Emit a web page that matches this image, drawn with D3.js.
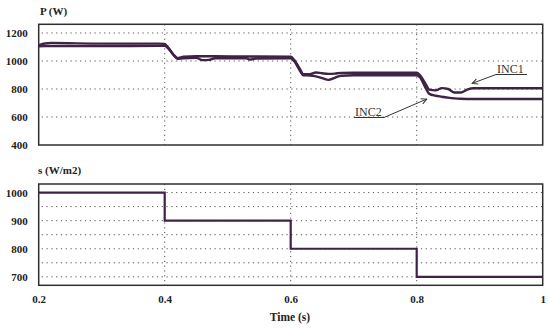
<!DOCTYPE html>
<html>
<head>
<meta charset="utf-8">
<script src="https://cdn.jsdelivr.net/npm/d3@7/dist/d3.min.js"></script>
<style>
    body { margin: 0; background: #fff; }
    svg { display: block; }
    text { font-family: "Liberation Serif", "Times New Roman", serif; }
</style>
</head>
<body>
<svg id="chart" width="550" height="329"></svg>
<script>
"use strict";

// power curves (W) for the two INC controllers
var powerTime = [0.2, 0.21, 0.22, 0.3, 0.39, 0.4, 0.405, 0.415, 0.42, 0.43, 0.45, 0.46, 0.47, 0.48, 0.53, 0.535, 0.545, 0.6,
    0.605, 0.615, 0.62, 0.63, 0.64, 0.65, 0.66, 0.67, 0.68, 0.7, 0.8, 0.805, 0.815, 0.82, 0.83, 0.84, 0.85, 0.86, 0.87, 0.88, 0.89, 0.95, 1];
var inc1 = [1112, 1125, 1128, 1124, 1124, 1122, 1100, 1040, 1022, 1030, 1034, 1034, 1034, 1034, 1032, 1032, 1032, 1030,
    1010, 940, 905, 905, 918, 912, 908, 910, 915, 916, 916, 900, 830, 795, 790, 806, 800, 775, 775, 795, 805, 805, 805];
var inc2 = [1104, 1106, 1106, 1106, 1108, 1108, 1092, 1038, 1016, 1020, 1022, 1006, 1008, 1020, 1020, 1010, 1018, 1020,
    1002, 928, 898, 896, 890, 878, 865, 880, 895, 898, 898, 884, 800, 765, 752, 745, 738, 733, 730, 729, 729, 728, 728];

// irradiance steps (W/m2)
var sunTime = [0.2, 0.4, 0.4, 0.6, 0.6, 0.8, 0.8, 1];
var sunLevel = [1000, 1000, 900, 900, 800, 800, 700, 700];

var timeTicks = [0.2, 0.4, 0.6, 0.8, 1];
var powerTicks = [400, 600, 800, 1000, 1200];
var powerGrid = [600, 800, 1000, 1200];
var sunTicks = [700, 800, 900, 1000];
var sunGrid = [700, 750, 800, 850, 900, 950, 1000];

var lineColor = "#3f2245";
var frameColor = "#2f2f2f";
var gridColor = "#555";
var fontFamily = "Liberation Serif, Times New Roman, serif";

var svg = d3.select("#chart");

var x = d3.scaleLinear().domain([0.2, 1]).range([38.7, 542.7]);
var yPower = d3.scaleLinear().domain([400, 1262]).range([145, 24.3]);
var ySun = d3.scaleLinear().domain([670, 1030.5]).range([285.3, 184]);

var styleText = function (sel, size, bold) {
    sel.attr("font-family", fontFamily)
        .attr("font-size", size)
        .attr("font-weight", bold ? "bold" : "normal")
        .attr("fill", "#222");
};

var drawGrid = function (g, yScale, gridValues) {
    g.selectAll(".hgrid").data(gridValues).enter().append("line")
        .attr("class", "hgrid")
        .attr("x1", x.range()[0] + 3)
        .attr("x2", x.range()[1])
        .attr("y1", function (d) { return yScale(d); })
        .attr("y2", function (d) { return yScale(d); })
        .attr("stroke", gridColor)
        .attr("stroke-width", 1)
        .attr("stroke-dasharray", "1.2,3.6");
    g.selectAll(".vgrid").data([0.4, 0.6, 0.8]).enter().append("line")
        .attr("class", "vgrid")
        .attr("x1", function (d) { return x(d); })
        .attr("x2", function (d) { return x(d); })
        .attr("y1", yScale.range()[1])
        .attr("y2", yScale.range()[0])
        .attr("stroke", gridColor)
        .attr("stroke-width", 1)
        .attr("stroke-dasharray", "1.2,3.6");
};

var drawFrame = function (g, yScale) {
    g.append("rect")
        .attr("x", x.range()[0])
        .attr("y", yScale.range()[1])
        .attr("width", x.range()[1] - x.range()[0])
        .attr("height", yScale.range()[0] - yScale.range()[1])
        .attr("fill", "none")
        .attr("stroke", frameColor)
        .attr("stroke-width", 1.5);
};

var drawYAxis = function (g, yScale, tickValues) {
    var axis = d3.axisLeft(yScale).tickValues(tickValues).tickSize(0).tickPadding(11)
        .tickFormat(d3.format("d"));
    var a = g.append("g")
        .attr("transform", "translate(" + x.range()[0] + ",0)")
        .call(axis);
    a.select(".domain").remove();
    a.selectAll("text").call(styleText, 11, true);
};

// top panel: power
var powerPanel = svg.append("g");
drawGrid(powerPanel, yPower, powerGrid);

var powerLine = function (values) {
    return d3.line()
        .x(function (d, i) { return x(powerTime[i]); })
        .y(function (d) { return yPower(d); })
        .curve(d3.curveMonotoneX)(values);
};

powerPanel.selectAll(".power").data([inc2, inc1]).enter().append("path")
    .attr("class", "power")
    .attr("d", powerLine)
    .attr("fill", "none")
    .attr("stroke", lineColor)
    .attr("stroke-width", 2.4)
    .attr("stroke-linejoin", "round");

drawFrame(powerPanel, yPower);
drawYAxis(powerPanel, yPower, powerTicks);

powerPanel.append("text")
    .attr("x", 40)
    .attr("y", 15)
    .call(styleText, 11, true)
    .text("P (W)");

// annotations with arrows
svg.append("defs").append("marker")
    .attr("id", "arrow")
    .attr("viewBox", "0 0 10 10")
    .attr("refX", 9)
    .attr("refY", 5)
    .attr("markerWidth", 7)
    .attr("markerHeight", 7)
    .attr("orient", "auto")
    .append("path")
    .attr("d", "M1,1 L9,5 L1,9")
    .attr("fill", "none")
    .attr("stroke", "#333")
    .attr("stroke-width", 1.4);

var labels = [
    {text: "INC1", tx: 497, ty: 73, ux1: 496, ux2: 527, uy: 74.5, fromLeft: true, at: 0.888, av: 840},
    {text: "INC2", tx: 355, ty: 116, ux1: 354, ux2: 384, uy: 117.5, fromLeft: false, at: 0.816, av: 728}
];

var notes = powerPanel.selectAll(".note").data(labels).enter().append("g").attr("class", "note");
notes.append("text")
    .attr("x", function (d) { return d.tx; })
    .attr("y", function (d) { return d.ty; })
    .call(styleText, 12, false)
    .attr("fill", "#333")
    .text(function (d) { return d.text; });
notes.append("line")
    .attr("x1", function (d) { return d.ux1; })
    .attr("x2", function (d) { return d.ux2; })
    .attr("y1", function (d) { return d.uy; })
    .attr("y2", function (d) { return d.uy; })
    .attr("stroke", "#333")
    .attr("stroke-width", 1);
notes.append("line")
    .attr("x1", function (d) { return d.fromLeft ? d.ux1 : d.ux2; })
    .attr("y1", function (d) { return d.uy; })
    .attr("x2", function (d) { return x(d.at); })
    .attr("y2", function (d) { return yPower(d.av); })
    .attr("stroke", "#333")
    .attr("stroke-width", 1)
    .attr("marker-end", "url(#arrow)");

// bottom panel: irradiance
var sunPanel = svg.append("g");
drawGrid(sunPanel, ySun, sunGrid);

sunPanel.append("path")
    .datum(sunLevel)
    .attr("d", d3.line()
        .x(function (d, i) { return x(sunTime[i]); })
        .y(function (d) { return ySun(d); }))
    .attr("fill", "none")
    .attr("stroke", lineColor)
    .attr("stroke-width", 2.2);

drawFrame(sunPanel, ySun);
drawYAxis(sunPanel, ySun, sunTicks);

sunPanel.append("text")
    .attr("x", 38)
    .attr("y", 174)
    .call(styleText, 11, true)
    .text("s (W/m2)");

var xAxis = sunPanel.append("g")
    .attr("transform", "translate(0," + ySun.range()[0] + ")")
    .call(d3.axisBottom(x).tickValues(timeTicks).tickSize(0).tickPadding(10)
        .tickFormat(function (d) { return String(d); }));
xAxis.select(".domain").remove();
xAxis.selectAll("text").call(styleText, 11, true);

sunPanel.append("text")
    .attr("x", 290)
    .attr("y", 321)
    .attr("text-anchor", "middle")
    .call(styleText, 11.5, true)
    .text("Time (s)");
</script>
</body>
</html>
